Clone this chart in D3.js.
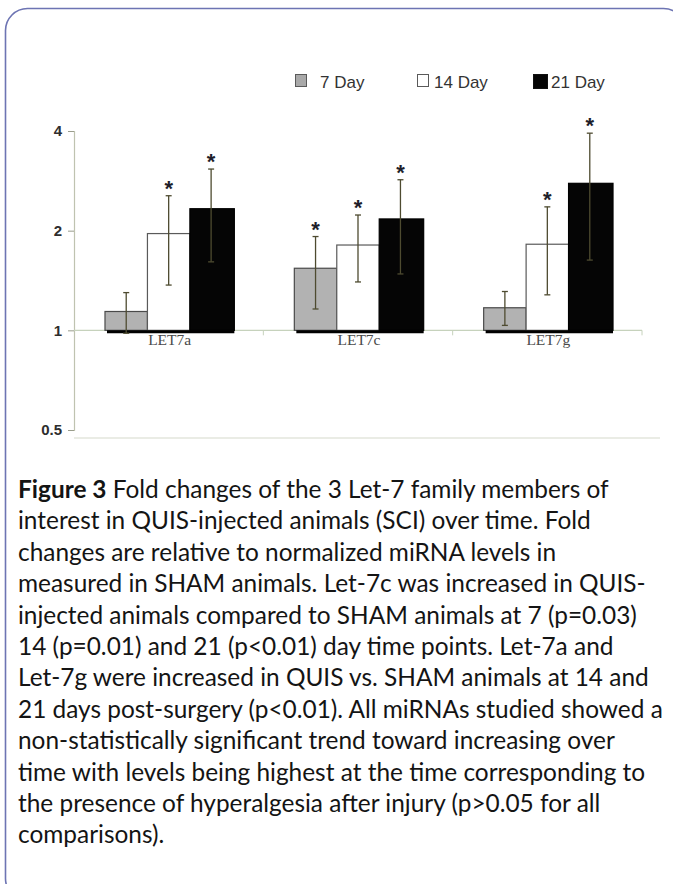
<!DOCTYPE html>
<html>
<head>
<meta charset="utf-8">
<script src="https://cdn.jsdelivr.net/npm/d3@7"></script>
<style>
  html, body { margin: 0; padding: 0; background: #fff; }
  svg { display: block; }
</style>
</head>
<body>
<div id="chart"></div>
<script>
// ---------- data ----------
const categories = ["LET7a", "LET7c", "LET7g"];
const seriesNames = ["7 Day", "14 Day", "21 Day"];
const day7  = [1.14, 1.54, 1.17];
const day14 = [1.96, 1.81, 1.82];
const day21 = [2.33, 2.17, 2.78];
const day7Hi  = [1.30, 1.92, 1.31];
const day7Lo  = [0.98, 1.16, 1.035];
const day14Hi = [2.55, 2.23, 2.36];
const day14Lo = [1.37, 1.40, 1.28];
const day21Hi = [3.07, 2.85, 3.94];
const day21Lo = [1.61, 1.48, 1.63];
const day7Sig  = [false, true, false];
const day14Sig = [true, true, true];
const day21Sig = [true, true, true];
const yTicks = [0.5, 1, 2, 4];
const yTickLabels = ["0.5", "1", "2", "4"];
const captionBold = "Figure 3";
const captionLines = [
  " Fold changes of the 3 Let-7 family members of",
  "interest in QUIS-injected animals (SCI) over time. Fold",
  "changes are relative to normalized miRNA levels in",
  "measured in SHAM animals. Let-7c was increased in QUIS-",
  "injected animals compared to SHAM animals at 7 (p=0.03)",
  "14 (p=0.01) and 21 (p<0.01) day time points. Let-7a and",
  "Let-7g were increased in QUIS vs. SHAM animals at 14 and",
  "21 days post-surgery (p<0.01). All miRNAs studied showed a",
  "non-statistically significant trend toward increasing over",
  "time with levels being highest at the time corresponding to",
  "the presence of hyperalgesia after injury (p>0.05 for all",
  "comparisons)."
];

// ---------- build table ----------
const seriesVals = [day7, day14, day21];
const seriesHi = [day7Hi, day14Hi, day21Hi];
const seriesLo = [day7Lo, day14Lo, day21Lo];
const seriesSig = [day7Sig, day14Sig, day21Sig];
const fills = ["#b2b2b2", "#ffffff", "#050505"];
const strokes = ["#4a4a4a", "#5a5a5a", "#000000"];
const rows = [];
categories.forEach((c, ci) => {
  seriesNames.forEach((s, si) => {
    rows.push({cat: c, ser: s, si, v: seriesVals[si][ci], hi: seriesHi[si][ci], lo: seriesLo[si][ci], sig: seriesSig[si][ci]});
  });
});

const W = 673, H = 884;
const svg = d3.select("#chart").append("svg").attr("width", W).attr("height", H);
svg.append("rect").attr("width", W).attr("height", H).attr("fill", "#fff");

// frame
svg.append("rect").attr("x", 5.5).attr("y", 8.5).attr("width", 680).attr("height", 892)
  .attr("rx", 22).attr("fill", "none").attr("stroke", "#6d74b3").attr("stroke-width", 1.6);

// scales
const y = d3.scaleLog().base(2).domain([0.5, 4]).range([430, 131]);
const x0 = d3.scaleBand().domain(categories).range([74, 642]).padding(0);
const x1 = d3.scaleBand().domain(seriesNames).range([0, x0.bandwidth()]).paddingInner(0).paddingOuter(0.73);

// bottom frame line
svg.append("line").attr("x1", 74).attr("x2", 660).attr("y1", 438).attr("y2", 438)
  .attr("stroke", "#d6dacb").attr("stroke-width", 1.2);

// y axis
const yAxis = d3.axisLeft(y).tickValues(yTicks).tickFormat((d, i) => yTickLabels[i]).tickSize(6).tickPadding(6);
const gy = svg.append("g").attr("transform", "translate(74,0)").call(yAxis);
gy.select(".domain").attr("stroke", "#bfc3b0").attr("stroke-width", 1.2);
gy.selectAll(".tick line").attr("stroke", "#9a9d8c");
gy.selectAll(".tick text").attr("font-family", "Liberation Sans, Arial, sans-serif")
  .attr("font-size", 15).attr("fill", "#2e2e2e").attr("font-weight", "bold");

// baseline at 1 with category separator ticks
svg.append("line").attr("x1", 74).attr("x2", 642).attr("y1", y(1)).attr("y2", y(1))
  .attr("stroke", "#c6d2bc").attr("stroke-width", 1.2);
svg.append("g").selectAll("line").data(categories).join("line")
  .attr("x1", d => x0(d) + x0.bandwidth()).attr("x2", d => x0(d) + x0.bandwidth())
  .attr("y1", y(1)).attr("y2", y(1) + 5).attr("stroke", "#c6d2bc").attr("stroke-width", 1);

// bars
const groups = svg.append("g").selectAll("g").data(categories).join("g")
  .attr("transform", d => `translate(${x0(d)},0)`);
groups.selectAll("rect").data(c => rows.filter(r => r.cat === c)).join("rect")
  .attr("x", d => x1(d.ser))
  .attr("width", d => x1.bandwidth() + (d.si === 2 ? 2 : 0))
  .attr("y", d => y(d.v))
  .attr("height", d => y(1) - y(d.v))
  .attr("fill", d => fills[d.si])
  .attr("stroke", d => strokes[d.si])
  .attr("stroke-width", 1.2);

// thick black line under bars
groups.append("line")
  .attr("x1", x1(seriesNames[0]) + 2)
  .attr("x2", x1(seriesNames[2]) + x1.bandwidth() + 2)
  .attr("y1", y(1) + 1.5).attr("y2", y(1) + 1.5)
  .attr("stroke", "#000").attr("stroke-width", 3);

// error bars
const eb = groups.selectAll("g.eb").data(c => rows.filter(r => r.cat === c)).join("g").attr("class", "eb");
const cx = d => x1(d.ser) + x1.bandwidth() / 2;
const ebColor = "#4e4b30";
eb.append("line").attr("x1", cx).attr("x2", cx).attr("y1", d => y(d.hi)).attr("y2", d => y(d.lo))
  .attr("stroke", ebColor).attr("stroke-width", 1.3);
eb.append("line").attr("x1", d => cx(d) - 3).attr("x2", d => cx(d) + 3).attr("y1", d => y(d.hi)).attr("y2", d => y(d.hi))
  .attr("stroke", ebColor).attr("stroke-width", 1.3);
eb.append("line").attr("x1", d => cx(d) - 3).attr("x2", d => cx(d) + 3).attr("y1", d => y(d.lo)).attr("y2", d => y(d.lo))
  .attr("stroke", ebColor).attr("stroke-width", 1.3);
// significance stars
eb.filter(d => d.sig).append("text")
  .attr("x", cx).attr("y", d => y(d.hi))
  .attr("text-anchor", "middle")
  .attr("font-family", "Liberation Sans, Arial, sans-serif")
  .attr("font-size", 22).attr("font-weight", "bold").attr("fill", "#1e1e2a")
  .text("*");

// category labels
svg.append("g").selectAll("text").data(categories).join("text")
  .attr("x", d => x0(d) + x0.bandwidth() / 2 + 1).attr("y", 345)
  .attr("text-anchor", "middle")
  .attr("font-family", "Liberation Serif, Times New Roman, serif")
  .attr("font-size", 15.5).attr("fill", "#4a4a4a")
  .text(d => d);

// legend
const legendPos = [
  {sx: 295, sy: 74, sw: 11, sh: 12, tx: 320},
  {sx: 417, sy: 74, sw: 11, sh: 12, tx: 434},
  {sx: 533, sy: 74, sw: 14, sh: 14, tx: 551}
];
const lg = svg.append("g").selectAll("g").data(seriesNames).join("g");
lg.append("rect")
  .attr("x", (d, i) => legendPos[i].sx + 0.5).attr("y", (d, i) => legendPos[i].sy + 0.5)
  .attr("width", (d, i) => legendPos[i].sw).attr("height", (d, i) => legendPos[i].sh)
  .attr("fill", (d, i) => i === 0 ? "#a9a9a9" : fills[i])
  .attr("stroke", (d, i) => i === 2 ? "#111" : "#5a5a5a").attr("stroke-width", 1);
lg.append("text")
  .attr("x", (d, i) => legendPos[i].tx).attr("y", 88)
  .attr("font-family", "Liberation Sans, Arial, sans-serif")
  .attr("font-size", 17).attr("fill", "#333")
  .text(d => d);

// caption
const cap = svg.append("g").attr("font-family", "Lato, 'Open Sans', sans-serif").attr("fill", "#141414");
const capX = 18, capY0 = 498, capDY = 31.4, targetW = 645;
let fs = 22;
const lineEls = cap.selectAll("text").data(captionLines).join("text")
  .attr("x", capX).attr("y", (d, i) => capY0 + i * capDY)
  .attr("font-size", fs);
lineEls.each(function(d, i) {
  const t = d3.select(this);
  if (i === 0) {
    t.append("tspan").attr("font-weight", "bold").text(captionBold);
    t.append("tspan").text(d);
  } else {
    t.text(d);
  }
});
// fit font size to the widest line
const widths = [];
lineEls.each(function() { widths.push(this.getComputedTextLength()); });
const wmax = d3.max(widths);
fs = fs * targetW / wmax;
lineEls.attr("font-size", fs);
</script>
</body>
</html>
